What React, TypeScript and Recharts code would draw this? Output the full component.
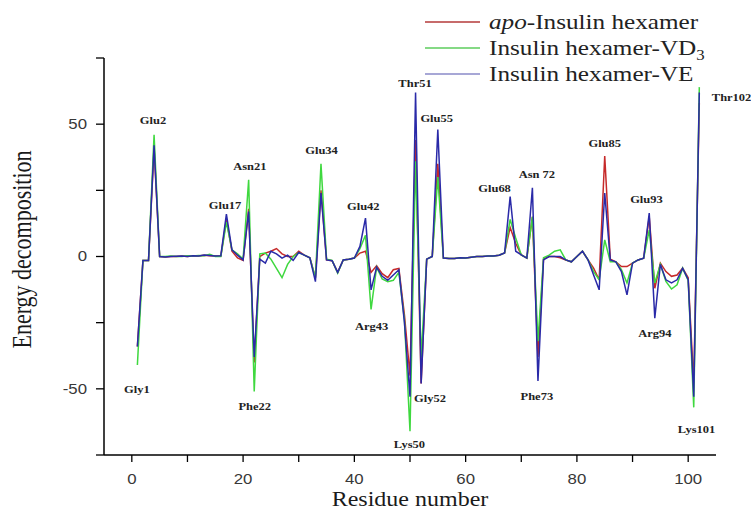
import React from 'react';
import { LineChart, Line, XAxis, YAxis, Legend, ReferenceDot } from 'recharts';

const residues = [
  1, 2, 3, 4, 5, 6, 7, 8, 9, 10, 11, 12, 13, 14, 15, 16, 17, 18, 19, 20,
  21, 22, 23, 24, 25, 26, 27, 28, 29, 30, 31, 32, 33, 34, 35, 36, 37, 38, 39, 40,
  41, 42, 43, 44, 45, 46, 47, 48, 49, 50, 51, 52, 53, 54, 55, 56, 57, 58, 59, 60,
  61, 62, 63, 64, 65, 66, 67, 68, 69, 70, 71, 72, 73, 74, 75, 76, 77, 78, 79, 80,
  81, 82, 83, 84, 85, 86, 87, 88, 89, 90, 91, 92, 93, 94, 95, 96, 97, 98, 99, 100,
  101, 102,
];

// apo-Insulin hexamer (red)
const apoValues = [
  -34, -1.5, -1.5, 41, 0, -0.2, 0, 0, 0.2, 0, 0.3, 0.2, 0.5, 0.3, 0.2, 0.2, 14, 2, -0.5, -1.5,
  18, -40, 0, 1.3, 2, 3, 1, 0, 0, 2, 0.5, -0.5, -8, 25, -1.3, -1.6, -6, -1.3, -1, -0.6,
  1.3, 2, -6, -3.5, -6.5, -8, -5, -4.5, -22, -45, 44, -48, -1, 0, 35, -0.6, -0.8, -0.8, -0.5, -0.6,
  -0.3, 0, 0, 0.2, 0.2, 0.5, 1.3, 11, 5, 0.6, -0.6, 15, -38, -1, 0, 0, -0.5, -1.3, -2, 0,
  2, -1.3, -4.4, -8.8, 38, -1, -2, -3.8, -3.8, -2.5, -1.3, -0.6, 15, -12, -2.5, -5.7, -7.5, -7, -4.4, -8,
  -48, 58,
];

// Insulin hexamer-VD3 (green)
const vd3Values = [
  -41, -1.5, -1.5, 46, 0, 0, 0.2, 0, 0, 0.3, 0.2, 0.4, 0.3, 0.8, 0, 0, 13, 2.5, 1, -1,
  29, -51, 1, 1.3, -1, -4.5, -8, -3, 0, 1.5, 0.5, -0.5, -8, 35, -1, -1.5, -6.3, -1.3, -1, -0.6,
  3, 8, -20, -4, -8.5, -9.5, -9, -6, -24, -66, 36, -38, -1, 0, 30, -0.6, -0.8, -0.8, -0.5, -0.6,
  -0.3, 0, 0, 0.2, 0.2, 0.5, 1.3, 14, 7, 0.6, -0.6, 15, -32, -0.5, 0.5, 2, 2.5, -1.3, -2, 0,
  2, -1.3, -5.7, -8.8, 6.3, -2, -2, -5, -10, -2.5, -1.3, -0.6, 10, -10, -3, -9.4, -12.3, -10.7, -4.4, -9,
  -57, 64,
];

// Insulin hexamer-VE (blue)
const veValues = [
  -34, -1.5, -1.5, 42, 0, -0.2, 0, 0.1, 0.2, 0, 0.3, 0.2, 0.6, 0.4, 0.2, 0.3, 16, 2.5, 0.5, -1.3,
  17, -38, -1, -2.5, 2, 1, -0.6, 0.5, -1.5, 1.5, 0.5, -0.5, -9.5, 24, -1.3, -1.6, -6, -1.3, -1, -0.6,
  3.8, 14.5, -12.6, -4, -7.5, -9, -7, -5, -25, -53, 62, -48, -1, 0, 48, -0.6, -0.8, -0.8, -0.5, -0.6,
  -0.3, 0, 0, 0.2, 0.2, 0.5, 1.3, 22.6, 2, 0.6, -0.6, 26, -47, -1.3, 0, 0, 0, -1.3, -2, 0,
  2, -1.3, -7, -12.6, 24, -1.3, -2, -5.7, -14.5, -2.5, -1.3, -0.6, 16.4, -23.3, -3, -8.8, -10, -8.8, -4.4, -8.8,
  -53, 62,
];

const seriesNames = ['apo-Insulin hexamer', 'Insulin hexamer-VD3', 'Insulin hexamer-VE'];
const seriesColors = ['#c62a2a', '#3fd83f', '#2a2aa8'];
const legendColors = ['#b53a3a', '#5ccc5c', '#8a8ac8'];

const xTicks = [0, 10, 20, 30, 40, 50, 60, 70, 80, 90, 100];
const xLabelTicks = [0, 20, 40, 60, 80, 100];
const yTicks = [-75, -50, -25, 0, 25, 50, 75];
const yLabelTicks = [-50, 0, 50];

// Annotation labels: text, and the data position where the label is centered
const annoNames = ['Gly1', 'Glu2', 'Glu17', 'Asn21', 'Phe22', 'Glu34', 'Glu42', 'Arg43', 'Lys50', 'Thr51', 'Gly52', 'Glu55', 'Glu68', 'Asn 72', 'Phe73', 'Glu85', 'Glu93', 'Arg94', 'Lys101', 'Thr102'];
const annoX = [0.9, 3.8, 16.75, 21.2, 22.1, 34.1, 41.6, 43.1, 49.9, 50.9, 53.6, 54.8, 65.2, 72.8, 72.8, 85.0, 92.5, 94.0, 101.5, 107.8];
const annoY = [-50.4, 51.3, 19.1, 33.9, -56.7, 40.2, 18.8, -26.3, -71.2, 65.4, -53.6, 52.2, 25.8, 30.8, -53, 42.8, 21.7, -29, -65.5, 60];

const data = residues.map((r, i) => ({
  residue: r,
  apo: apoValues[i],
  vd3: vd3Values[i],
  ve: veValues[i],
}));

const STRETCH = 1.2;
const SERIF = 'Liberation Serif, Times New Roman, serif';
const SANS = 'Liberation Sans, Arial, sans-serif';

const XTick = (props: any) => {
  const { x, y, payload } = props;
  if (!xLabelTicks.includes(payload.value)) return null;
  return (
    <g transform={`translate(${x},${y}) scale(${STRETCH},1)`}>
      <text x={0} y={0} dy="0.71em" textAnchor="middle" fontFamily={SANS} fontSize={14} fill="#383838">
        {payload.value}
      </text>
    </g>
  );
};

const YTick = (props: any) => {
  const { x, y, payload } = props;
  if (!yLabelTicks.includes(payload.value)) return null;
  return (
    <g transform={`translate(${x},${y}) scale(${STRETCH},1)`}>
      <text x={0} y={0} dy="0.355em" textAnchor="end" fontFamily={SANS} fontSize={14} fill="#383838">
        {payload.value}
      </text>
    </g>
  );
};

const XTitle = (props: any) => {
  const vb = props.viewBox;
  const cx = vb.x + vb.width / 2;
  const by = vb.y + 51;
  return (
    <g transform={`translate(${cx},${by}) scale(${STRETCH},1)`}>
      <text x={0} y={0} textAnchor="middle" fontFamily={SERIF} fontSize={20} fill="#1a1a1a">
        Residue number
      </text>
    </g>
  );
};

const YTitle = (props: any) => {
  const vb = props.viewBox;
  const cy = vb.y + vb.height / 2 - 7;
  return (
    <g transform={`translate(22,${cy}) rotate(-90) scale(1,${STRETCH})`}>
      <text x={0} y={0} dy="0.35em" textAnchor="middle" fontFamily={SERIF} fontSize={22} fill="#1a1a1a">
        Energy decomposition
      </text>
    </g>
  );
};

const AnnoLabel = (props: any) => {
  const vb = props.viewBox || {};
  const cx = (vb.x || 0) + (vb.width || 0) / 2;
  const cy = (vb.y || 0) + (vb.height || 0) / 2;
  return (
    <g transform={`translate(${cx},${cy}) scale(1.25,1)`}>
      <text x={0} y={0} dy="0.35em" textAnchor="middle" fontFamily={SERIF} fontWeight="bold" fontSize={10} fill="#222">
        {props.value}
      </text>
    </g>
  );
};

const LegendContent = () => {
  const rowsY = [22, 48, 74];
  const lineX1 = 425;
  const lineX2 = 480;
  const textX = 489;
  return (
    <svg width={751} height={100} style={{ display: 'block' }}>
      {rowsY.map((ry, i) => (
        <line key={i} x1={lineX1} x2={lineX2} y1={ry} y2={ry} stroke={legendColors[i]} strokeWidth={1.3} />
      ))}
      <g transform={`translate(${textX},${rowsY[0] + 7}) scale(1.2,1)`}>
        <text x={0} y={0} fontFamily={SERIF} fontSize={21} fill="#222">
          <tspan fontStyle="italic">apo</tspan>-Insulin hexamer
        </text>
      </g>
      <g transform={`translate(${textX},${rowsY[1] + 7}) scale(1.2,1)`}>
        <text x={0} y={0} fontFamily={SERIF} fontSize={21} fill="#222">
          Insulin hexamer-VD<tspan fontSize={14} dy={5}>3</tspan>
        </text>
      </g>
      <g transform={`translate(${textX},${rowsY[2] + 7}) scale(1.2,1)`}>
        <text x={0} y={0} fontFamily={SERIF} fontSize={21} fill="#222">
          Insulin hexamer-VE
        </text>
      </g>
    </svg>
  );
};

export default function App() {
  return (
    <div style={{ width: 751, height: 513, background: '#fff' }}>
      <style>{'body{margin:0;background:#fff;}'}</style>
      <LineChart
        width={751}
        height={513}
        data={data}
        margin={{ top: 58, right: 35, bottom: 0, left: 0 }}
      >
        <XAxis
          dataKey="residue"
          type="number"
          domain={[-5, 105]}
          ticks={xTicks}
          interval={0}
          height={58}
          tickSize={7}
          tickMargin={12}
          tick={<XTick />}
          axisLine={{ stroke: '#000', strokeWidth: 1.5 }}
          tickLine={{ stroke: '#000', strokeWidth: 1.3 }}
          label={XTitle}
        />
        <YAxis
          type="number"
          domain={[-75, 75]}
          ticks={yTicks}
          interval={0}
          width={104}
          tickSize={8}
          tickMargin={9}
          tick={<YTick />}
          axisLine={{ stroke: '#000', strokeWidth: 1.5 }}
          tickLine={{ stroke: '#000', strokeWidth: 1.3 }}
          label={YTitle}
        />
        <Legend
          layout="horizontal"
          verticalAlign="middle"
          align="center"
          content={LegendContent}
          wrapperStyle={{ position: 'absolute', top: 0, left: 0, width: 751, height: 100 }}
        />
        <Line type="linear" dataKey="apo" name={seriesNames[0]} stroke={seriesColors[0]} strokeWidth={1.5} dot={false} isAnimationActive={false} />
        <Line type="linear" dataKey="vd3" name={seriesNames[1]} stroke={seriesColors[1]} strokeWidth={1.5} dot={false} isAnimationActive={false} />
        <Line type="linear" dataKey="ve" name={seriesNames[2]} stroke={seriesColors[2]} strokeWidth={1.5} dot={false} isAnimationActive={false} />
        {annoNames.map((name, i) => (
          <ReferenceDot
            key={name}
            x={annoX[i]}
            y={annoY[i]}
            r={1}
            fill="none"
            stroke="none"
            ifOverflow="visible"
            label={{ value: name, content: AnnoLabel }}
          />
        ))}
      </LineChart>
    </div>
  );
}
